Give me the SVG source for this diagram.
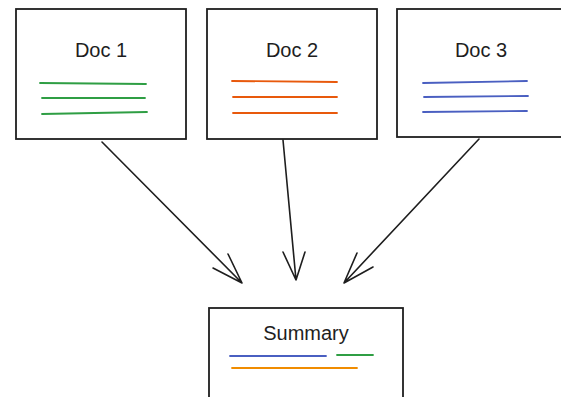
<svg xmlns="http://www.w3.org/2000/svg" width="561" height="397" viewBox="0 0 561 397">
<style>
.box{fill:#ffffff;stroke:#1e1e1e;stroke-width:1.8}
.t{font-family:"Liberation Sans",Arial,sans-serif;font-size:20px;fill:#1e1e1e;text-anchor:middle}
.g{stroke:#2f9e44;stroke-width:1.8;fill:none;stroke-linecap:round}
.o{stroke:#e8590c;stroke-width:1.8;fill:none;stroke-linecap:round}
.b{stroke:#4a5fc1;stroke-width:1.8;fill:none;stroke-linecap:round}
.y{stroke:#f08c00;stroke-width:1.8;fill:none;stroke-linecap:round}
.c{stroke:#1e1e1e;stroke-width:1.6;fill:none;stroke-linecap:round;stroke-linejoin:round}
</style>
<rect width="561" height="397" fill="#ffffff"/>
<g id="doc1">
<rect class="box" x="16" y="9" width="170" height="130"/>
<text class="t" x="101" y="57">Doc 1</text>
<line class="g" x1="40" y1="83" x2="146" y2="84"/>
<line class="g" x1="42" y1="98" x2="145" y2="98"/>
<line class="g" x1="42" y1="114" x2="147" y2="112"/>
</g>
<g id="doc2">
<rect class="box" x="207" y="9" width="170" height="130"/>
<text class="t" x="292" y="57">Doc 2</text>
<line class="o" x1="232" y1="81" x2="337" y2="82"/>
<line class="o" x1="233" y1="97" x2="337" y2="97"/>
<line class="o" x1="233" y1="113" x2="337" y2="113"/>
</g>
<g id="doc3">
<rect class="box" x="397" y="9" width="170" height="128"/>
<text class="t" x="481" y="57">Doc 3</text>
<line class="b" x1="423" y1="83" x2="527" y2="81"/>
<line class="b" x1="424" y1="97" x2="528" y2="96"/>
<line class="b" x1="423" y1="112" x2="527" y2="111"/>
</g>
<g id="summary">
<rect class="box" x="209" y="308" width="194" height="100"/>
<text class="t" x="306" y="340">Summary</text>
<line class="b" x1="230" y1="356" x2="326" y2="356"/>
<line class="g" x1="337" y1="355" x2="373" y2="355"/>
<line class="y" x1="232" y1="368" x2="357" y2="368"/>
</g>
<g id="connectors">
<path class="c" d="M102 142 L242 283 M228 254 L242 283 L213 268"/>
<path class="c" d="M283 140 L296 280 M283 252 L296 280 L305 252"/>
<path class="c" d="M479 139 L344 283 M357 253 L344 283 L373 267"/>
</g>
</svg>
